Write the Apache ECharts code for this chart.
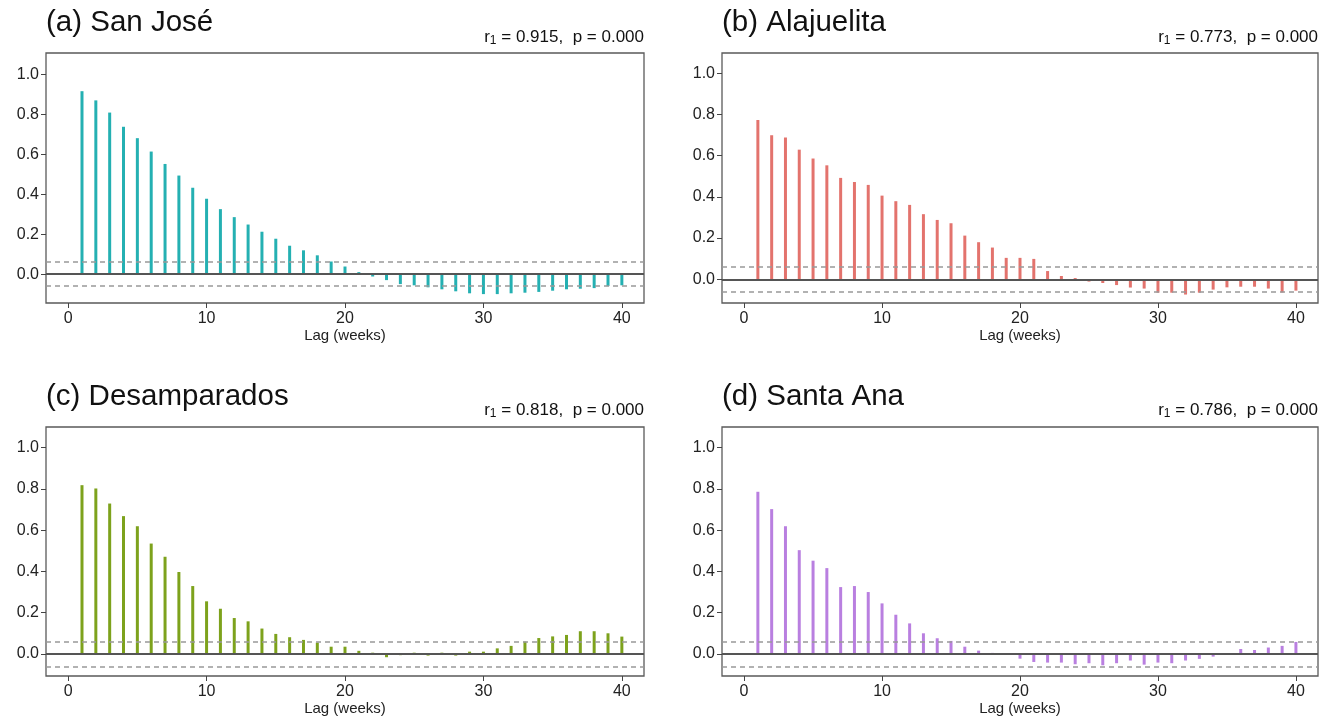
<!DOCTYPE html>
<html>
<head>
<meta charset="utf-8">
<script src="https://cdn.jsdelivr.net/npm/echarts@6/dist/echarts.min.js"></script>
<style>html,body{margin:0;padding:0;background:#fff;}#c{width:1334px;height:720px;}</style>
</head>
<body>
<div id="c"></div>
<script>
const lags = [1,2,3,4,5,6,7,8,9,10,11,12,13,14,15,16,17,18,19,20,21,22,23,24,25,26,27,28,29,30,31,32,33,34,35,36,37,38,39,40];
const sanJose = [0.915,0.869,0.808,0.737,0.680,0.613,0.551,0.493,0.432,0.377,0.325,0.285,0.248,0.212,0.177,0.142,0.119,0.094,0.063,0.038,0.010,-0.012,-0.030,-0.050,-0.056,-0.066,-0.076,-0.086,-0.096,-0.100,-0.100,-0.096,-0.093,-0.089,-0.083,-0.076,-0.073,-0.070,-0.060,-0.056];
const alajuelita = [0.773,0.699,0.688,0.629,0.586,0.553,0.492,0.472,0.458,0.406,0.379,0.361,0.316,0.288,0.272,0.212,0.180,0.154,0.104,0.104,0.099,0.040,0.016,0.006,-0.011,-0.018,-0.028,-0.040,-0.045,-0.065,-0.065,-0.074,-0.065,-0.050,-0.039,-0.036,-0.036,-0.045,-0.064,-0.055];
const desamparados = [0.818,0.802,0.729,0.668,0.619,0.535,0.471,0.397,0.329,0.255,0.219,0.174,0.158,0.123,0.097,0.081,0.068,0.055,0.035,0.035,0.015,0.006,-0.016,-0.006,0.006,-0.008,0.006,-0.008,0.011,0.011,0.027,0.039,0.060,0.077,0.085,0.092,0.110,0.110,0.100,0.084];
const santaAna = [0.786,0.702,0.619,0.503,0.452,0.416,0.324,0.329,0.300,0.245,0.190,0.148,0.100,0.076,0.063,0.035,0.016,0.005,0.002,-0.023,-0.039,-0.042,-0.042,-0.050,-0.045,-0.055,-0.045,-0.032,-0.052,-0.042,-0.045,-0.032,-0.024,-0.013,-0.005,0.024,0.019,0.031,0.039,0.058];
const panelTitles = ['(a) San José','(b) Alajuelita','(c) Desamparados','(d) Santa Ana'];
const r1Values = ['0.915','0.773','0.818','0.786'];
const pValues = ['0.000','0.000','0.000','0.000'];
const xTicks = [0,10,20,30,40];
const yTicks = [0,0.2,0.4,0.6,0.8,1.0];
const confLimit = 0.062;
const xLabel = 'Lag (weeks)';

const seriesData = [sanJose, alajuelita, desamparados, santaAna];
const colors = ['#24B0B2','#E3736D','#7DA21C','#B97FE0'];
const FONT = '"Liberation Sans", Arial, sans-serif';
const boxes = [
  {left:46, top:53, width:598, height:250, ymin:-0.1445, ymax:1.106},
  {left:722, top:53, width:596, height:250, ymin:-0.115, ymax:1.098},
  {left:46, top:427, width:598, height:249, ymin:-0.107, ymax:1.100},
  {left:722, top:427, width:596, height:249, ymin:-0.107, ymax:1.100}
];

const grid = boxes.map(b => ({left:b.left, top:b.top, width:b.width, height:b.height, show:true, borderColor:'#5a5a5a', borderWidth:1.3, backgroundColor:'#fff', containLabel:false}));
const xAxis = boxes.map((b,i) => ({
  gridIndex:i, type:'value', min:-1.6, max:41.6,
  splitLine:{show:false},
  axisLine:{show:false, onZero:false},
  axisTick:{show:true, length:5, customValues:xTicks, lineStyle:{color:'#444', width:1}},
  axisLabel:{customValues:xTicks, fontSize:16, color:'#222', margin:8, fontFamily:FONT},
  name:xLabel, nameLocation:'middle', nameGap:25,
  nameTextStyle:{fontSize:15, color:'#222', fontFamily:FONT}
}));
const yAxis = boxes.map((b,i) => ({
  gridIndex:i, type:'value', min:b.ymin, max:b.ymax,
  splitLine:{show:false},
  axisLine:{show:false, onZero:false},
  axisTick:{show:true, length:5, customValues:yTicks, lineStyle:{color:'#444', width:1}},
  axisLabel:{customValues:yTicks, formatter:v => v.toFixed(1), fontSize:16, color:'#222', margin:7, fontFamily:FONT}
}));
const series = seriesData.map((vals,i) => ({
  type:'bar', xAxisIndex:i, yAxisIndex:i,
  data: lags.map((l,j) => [l, vals[j]]),
  barWidth:3, itemStyle:{color:colors[i]},
  markLine:{silent:true, symbol:'none', label:{show:false}, animation:false,
    data:[
      {yAxis:0, lineStyle:{color:'#555', width:2, type:'solid'}},
      {yAxis:confLimit, lineStyle:{color:'#999', width:1.5, type:[5,4]}},
      {yAxis:-confLimit, lineStyle:{color:'#999', width:1.5, type:[5,4]}}
    ]}
}));
const titleTops = [6, 6, 380, 380];
const statTops = [27, 27, 400, 400];
const title = [];
boxes.forEach((b,i) => {
  title.push({text:panelTitles[i], left:b.left, top:titleTops[i], padding:0,
    textStyle:{fontSize:29.5, fontWeight:'normal', color:'#111', fontFamily:FONT, lineHeight:33}});
  title.push({text:'{r|r}{s|1}{t| = ' + r1Values[i] + ',  p = ' + pValues[i] + '}',
    right:1334 - (b.left + b.width), top:statTops[i], padding:0,
    textStyle:{fontSize:17, fontWeight:'normal', color:'#111', fontFamily:FONT,
      rich:{
        r:{fontSize:17, color:'#111', fontFamily:FONT, lineHeight:20, verticalAlign:'middle'},
        s:{fontSize:12, color:'#111', fontFamily:FONT, lineHeight:10, verticalAlign:'bottom'},
        t:{fontSize:17, color:'#111', fontFamily:FONT, lineHeight:20, verticalAlign:'middle'}
      }}});
});

const chart = echarts.init(document.getElementById('c'), null, {renderer:'canvas'});
chart.setOption({animation:false, backgroundColor:'#fff', title, grid, xAxis, yAxis, series});
</script>
</body>
</html>
